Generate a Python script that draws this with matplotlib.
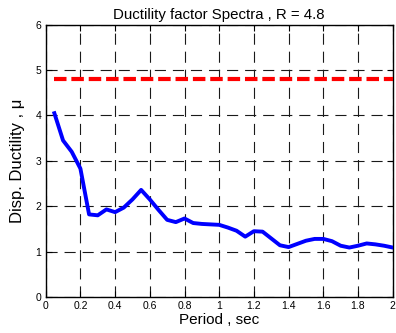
import matplotlib
matplotlib.use("Agg")
import matplotlib.pyplot as plt
import numpy as np

plt.rcParams['font.family'] = ['Liberation Sans', 'DejaVu Sans']
plt.rcParams['lines.scale_dashes'] = False

# Spectrum ordinates
period = [0.05, 0.10, 0.15, 0.20, 0.25, 0.30, 0.35, 0.40, 0.45, 0.50,
          0.55, 0.60, 0.65, 0.70, 0.75, 0.80, 0.85, 0.90, 0.95, 1.00,
          1.05, 1.10, 1.15, 1.20, 1.25, 1.30, 1.35, 1.40, 1.45, 1.50,
          1.55, 1.60, 1.65, 1.70, 1.75, 1.80, 1.85, 1.90, 1.95, 2.00]
ductility = [4.05, 3.45, 3.20, 2.83, 1.82, 1.80, 1.93, 1.87, 1.97, 2.15,
             2.36, 2.15, 1.92, 1.70, 1.65, 1.73, 1.63, 1.61, 1.60, 1.59,
             1.53, 1.46, 1.33, 1.45, 1.44, 1.29, 1.14, 1.10, 1.17, 1.24,
             1.28, 1.28, 1.23, 1.13, 1.09, 1.13, 1.18, 1.16, 1.13, 1.09]
R = 4.8
xticks = [0, 0.2, 0.4, 0.6, 0.8, 1, 1.2, 1.4, 1.6, 1.8, 2]
xticklabels = ['0', '0.2', '0.4', '0.6', '0.8', '1', '1.2', '1.4', '1.6', '1.8', '2']
yticks = [0, 1, 2, 3, 4, 5, 6]

fig = plt.figure(figsize=(3.96, 3.33), dpi=100)
ax = fig.add_axes([0.1154, 0.1081, 0.8763, 0.8177])

ax.plot(period, ductility, color='#0000ff', lw=2.8, solid_joinstyle='round', zorder=3)
ax.plot([period[0], period[-1]], [R, R], color='#ff0000', lw=3.0,
        dashes=(9, 3.5), zorder=3)

ax.set_xlim(0, 2)
ax.set_ylim(0, 6)
ax.set_xticks(xticks)
ax.set_xticklabels(xticklabels)
ax.set_yticks(yticks)
ax.grid(True, color='#1a1a1a', lw=0.8, dashes=(8, 5))
ax.tick_params(direction='in', top=True, right=True, labelsize=7.5,
               length=4, width=0.8, pad=3)
for s in ax.spines.values():
    s.set_linewidth(1.0)

ax.set_title('Ductility factor Spectra , R = 4.8', fontsize=10.8, pad=4)
ax.set_xlabel('Period , sec', fontsize=11, labelpad=1)
ax.set_ylabel('Disp. Ductility , \u03bc', fontsize=12, labelpad=8)

fig.savefig('out.png', dpi=100)
